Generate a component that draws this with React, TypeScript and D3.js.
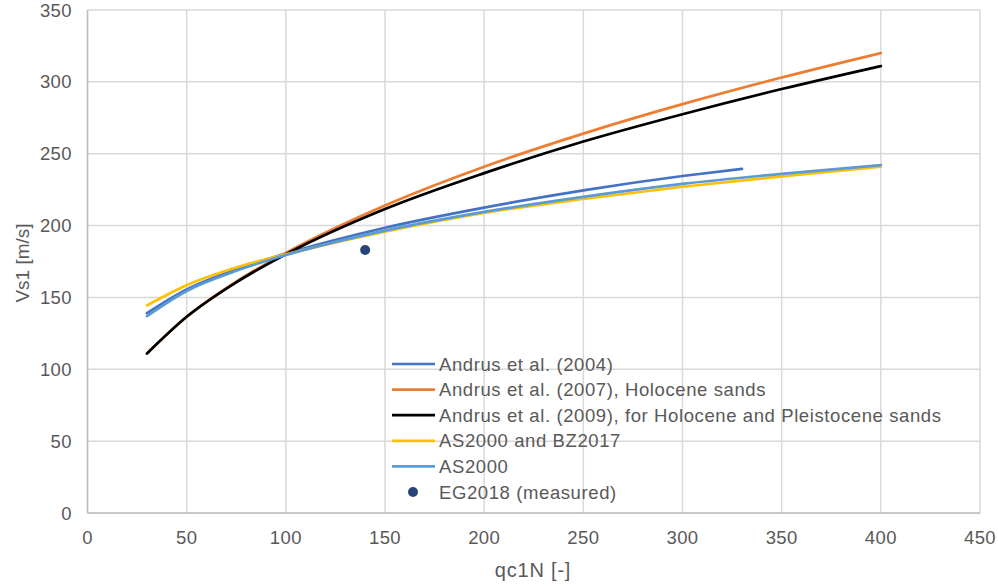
import React from "react";
import * as d3 from "d3";

const xTicks = [0, 50, 100, 150, 200, 250, 300, 350, 400, 450];
const yTicks = [0, 50, 100, 150, 200, 250, 300, 350];

const qGrid = [30, 50, 75, 100, 150, 200, 250, 300, 350, 400];
const andrus2004X = [30, 50, 75, 100, 150, 200, 250, 300, 330];
const andrus2004Y = [139, 155.5, 169.5, 180.5, 198.5, 212.5, 224.5, 234.5, 239.5];
const andrus2007Y = [111, 136.5, 161, 181, 214, 241, 264, 284.5, 303, 320];
const andrus2009Y = [111, 136.5, 160.5, 180, 211.5, 236.5, 258.5, 277.5, 295, 311];
const as2000bzY = [144.5, 158.5, 170.8, 180, 195.8, 208.8, 218.5, 227, 234.2, 241];
const as2000Y = [137, 154.5, 168.5, 179.5, 196.5, 209.5, 220, 229, 236, 242];

const measuredX = [140];
const measuredY = [183];

const seriesNames = [
  "Andrus et al. (2004)",
  "Andrus et al. (2007), Holocene sands",
  "Andrus et al. (2009), for Holocene and Pleistocene sands",
  "AS2000 and BZ2017",
  "AS2000",
  "EG2018 (measured)",
];
const seriesColors = ["#4472C4", "#ED7D31", "#000000", "#FFC000", "#5B9BD5", "#264478"];

export default function App() {
  const W = 998, H = 586;
  const left = 87.5, right = 980, top = 10, bottom = 513;
  const x = d3.scaleLinear().domain([0, 450]).range([left, right]);
  const y = d3.scaleLinear().domain([0, 350]).range([bottom, top]);
  const font = "'Liberation Sans', Arial, sans-serif";
  const textCol = "#595959";

  const lines = [
    { xs: andrus2004X, ys: andrus2004Y },
    { xs: qGrid, ys: andrus2007Y },
    { xs: qGrid, ys: andrus2009Y },
    { xs: qGrid, ys: as2000bzY },
    { xs: qGrid, ys: as2000Y },
  ];
  const lineGen = d3
    .line<[number, number]>()
    .x((d) => x(d[0]))
    .y((d) => y(d[1]))
    .curve(d3.curveMonotoneX);

  const legX = 392, legY0 = 364, legDy = 25.6;

  return (
    <svg width={W} height={H} style={{ position: "absolute", left: 0, top: 0, background: "#fff" }}>
      <rect x={0} y={0} width={W} height={H} fill="#fff" />
      {xTicks.map((t) => (
        <line key={"gx" + t} x1={x(t)} x2={x(t)} y1={top} y2={bottom} stroke="#d9d9d9" strokeWidth={1.5} />
      ))}
      {yTicks.map((t) => (
        <line key={"gy" + t} x1={left} x2={right} y1={y(t)} y2={y(t)} stroke="#d9d9d9" strokeWidth={1.5} />
      ))}
      <line x1={left} x2={left} y1={top} y2={bottom} stroke="#bfbfbf" strokeWidth={1.5} />
      <line x1={left} x2={right} y1={bottom} y2={bottom} stroke="#bfbfbf" strokeWidth={1.5} />
      {yTicks.map((t) => (
        <text key={"ty" + t} x={72} y={y(t) + 6.5} textAnchor="end" fontFamily={font} fontSize={18.5} letterSpacing={0.4} fill={textCol}>
          {t}
        </text>
      ))}
      {xTicks.map((t) => (
        <text key={"tx" + t} x={x(t)} y={544} textAnchor="middle" fontFamily={font} fontSize={18.5} letterSpacing={0.4} fill={textCol}>
          {t}
        </text>
      ))}
      <text x={533} y={577} textAnchor="middle" fontFamily={font} fontSize={20} letterSpacing={0.8} fill={textCol}>
        qc1N [-]
      </text>
      <text
        transform={`translate(29,263) rotate(-90)`}
        textAnchor="middle"
        fontFamily={font}
        fontSize={19}
        fill={textCol}
      >
        Vs1 [m/s]
      </text>
      {lines.map((s, i) => (
        <path
          key={"l" + i}
          d={lineGen(s.xs.map((v, j) => [v, s.ys[j]] as [number, number])) || ""}
          fill="none"
          stroke={seriesColors[i]}
          strokeWidth={2.7}
          strokeLinecap="round"
        />
      ))}
      {measuredX.map((v, i) => (
        <circle key={"m" + i} cx={x(v)} cy={y(measuredY[i])} r={5} fill={seriesColors[5]} />
      ))}
      {seriesNames.map((n, i) => {
        const yy = legY0 + i * legDy;
        return (
          <g key={"leg" + i}>
            {i < 5 ? (
              <line x1={legX} x2={legX + 43} y1={yy} y2={yy} stroke={seriesColors[i]} strokeWidth={2.7} />
            ) : (
              <circle cx={legX + 21} cy={yy} r={5} fill={seriesColors[i]} />
            )}
            <text x={legX + 47} y={yy + 6.5} fontFamily={font} fontSize={18.5} letterSpacing={0.6} fill={textCol}>
              {n}
            </text>
          </g>
        );
      })}
    </svg>
  );
}
